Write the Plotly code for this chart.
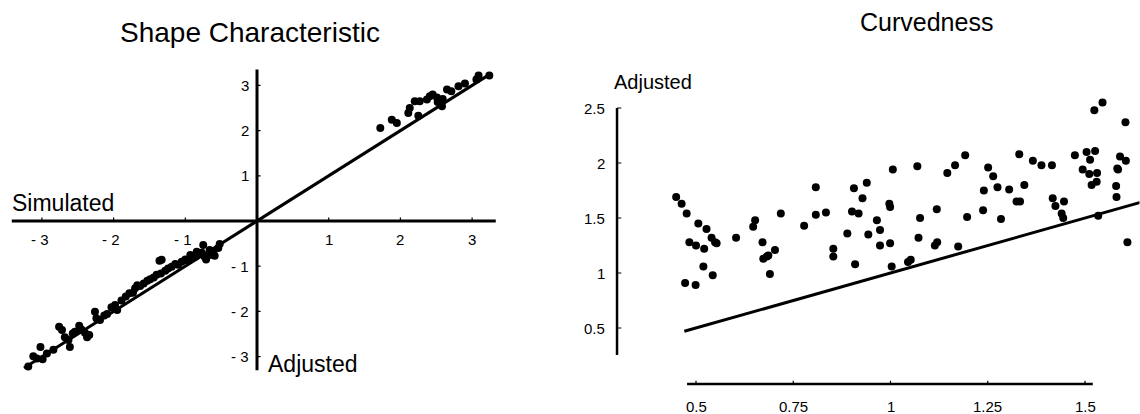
import plotly.graph_objects as go

# ---------------- data: Shape Characteristic (left) ----------------
shape_sim = [
    1.72, 1.88, 1.95, 2.11, 2.13, 2.20, 2.27, 2.25, 2.41, 2.45, 2.51, 2.58, 2.59, 2.65,
    2.71, 2.81, 2.90, 3.06, 3.09, 3.24, 2.37, 2.52,
    -3.19, -3.12, -3.07, -3.02, -2.99, -2.93, -2.84, -2.76, -2.72, -2.68, -2.63, -2.61,
    -2.57, -2.54, -2.48, -2.45, -2.40, -2.37, -2.34, -2.26, -2.24, -2.19, -2.13, -2.09,
    -2.03, -1.98, -1.95, -1.89, -1.83, -1.78, -1.73, -1.70, -1.67, -1.63, -1.58, -1.53,
    -1.49, -1.44, -1.40, -1.36, -1.34, -1.28, -1.24, -1.19, -1.14, -1.10, -1.05, -1.00,
    -0.96, -0.91, -0.86, -0.82, -0.77, -0.71, -0.66, -0.59,
    -0.75, -0.66, -0.61, -0.84, -0.93, -1.33, -0.54, -0.52, -0.73,
]
shape_adj = [
    2.06, 2.24, 2.17, 2.39, 2.50, 2.65, 2.65, 2.33, 2.76, 2.80, 2.73, 2.54, 2.70, 2.91,
    2.87, 2.98, 3.04, 3.13, 3.22, 3.22, 2.69, 2.63,
    -3.22, -2.99, -3.04, -2.79, -3.06, -2.93, -2.85, -2.34, -2.41, -2.57, -2.63, -2.79,
    -2.49, -2.45, -2.32, -2.40, -2.47, -2.57, -2.52, -2.01, -2.15, -2.19, -2.09, -2.06,
    -1.91, -1.86, -1.97, -1.76, -1.67, -1.60, -1.59, -1.49, -1.42, -1.44, -1.38, -1.32,
    -1.29, -1.25, -1.19, -0.88, -1.16, -1.10, -1.05, -1.01, -0.95, -0.97, -0.90, -0.85,
    -0.88, -0.80, -0.79, -0.73, -0.70, -0.85, -0.75, -0.77,
    -0.53, -0.64, -0.71, -0.68, -0.75, -0.86, -0.60, -0.51, -0.79,
]
shape_line_x = [-3.25, 3.2]
shape_line_y = [-3.25, 3.2]
shape_xticks = [-3, -2, -1, 1, 2, 3]
shape_xticklabels = ["- 3", "- 2", "- 1", "1", "2", "3"]
shape_yticks = [3, 2, 1, -1, -2, -3]
shape_yticklabels = ["3", "2", "1", "- 1", "- 2", "- 3"]

# ---------------- data: Curvedness (right) ----------------
curv_sim = [
    0.449, 0.463, 0.476, 0.506, 0.527, 0.540, 0.549, 0.553, 0.483, 0.500, 0.521, 0.603,
    0.652, 0.647, 0.671, 0.718, 0.778, 0.808, 0.808, 0.834, 0.853, 0.853, 0.889, 0.906,
    0.939, 0.928, 0.901, 0.918, 0.965, 0.973, 0.943, 0.997, 0.999, 1.006, 0.973, 0.999,
    0.682, 0.703,
    0.472, 0.499, 0.519, 0.543, 0.690, 0.673, 0.686, 0.909, 1.003, 1.045,
    1.069, 1.076, 1.072, 1.052, 1.114, 1.120, 1.119, 1.146, 1.166, 1.192, 1.174, 1.197,
    1.238, 1.240, 1.251, 1.264, 1.275, 1.284, 1.305, 1.331, 1.344, 1.324, 1.333, 1.366,
    1.388, 1.415, 1.417, 1.424, 1.446, 1.440, 1.444, 1.474, 1.504, 1.526, 1.513, 1.494,
    1.511, 1.531, 1.517, 1.530, 1.524, 1.545, 1.534, 1.590, 1.605, 1.583, 1.585, 1.580,
    1.581, 1.604, 1.609,
]
curv_adj = [
    1.69, 1.63, 1.54, 1.45, 1.40, 1.32, 1.28, 1.27, 1.28, 1.25, 1.22, 1.32,
    1.48, 1.42, 1.28, 1.54, 1.43, 1.78, 1.53, 1.55, 1.22, 1.15, 1.36, 1.77,
    1.82, 1.68, 1.56, 1.54, 1.48, 1.39, 1.35, 1.63, 1.60, 1.94, 1.25, 1.27,
    1.15, 1.21,
    0.91, 0.89, 1.06, 0.98, 0.99, 1.13, 1.16, 1.08, 1.06, 1.10,
    1.97, 1.50, 1.32, 1.12, 1.25, 1.28, 1.58, 1.91, 1.98, 2.07, 1.24, 1.51,
    1.57, 1.75, 1.96, 1.88, 1.78, 1.49, 1.76, 2.08, 1.80, 1.65, 1.65, 2.02,
    1.98, 1.98, 1.68, 1.61, 1.65, 1.54, 1.50, 2.07, 2.10, 2.11, 2.03, 1.94,
    1.90, 1.91, 1.80, 1.83, 2.48, 2.55, 1.52, 2.06, 2.02, 1.95, 1.94, 1.79,
    1.69, 2.37, 1.28,
]
curv_line_x = [0.47, 1.66]
curv_line_y = [0.47, 1.66]
curv_xticks = [0.5, 0.75, 1, 1.25, 1.5]
curv_xticklabels = ["0.5", "0.75", "1", "1.25", "1.5"]
curv_yticks = [2.5, 2, 1.5, 1, 0.5]
curv_yticklabels = ["2.5", "2", "1.5", "1", "0.5"]

FONT = "Liberation Sans, Arial, Helvetica, sans-serif"
W, H = 1140, 414

fig = go.Figure()

# left panel
fig.add_trace(go.Scatter(x=shape_line_x, y=shape_line_y, mode="lines",
                         line=dict(color="black", width=3), xaxis="x", yaxis="y",
                         hoverinfo="skip", showlegend=False))
fig.add_trace(go.Scatter(x=shape_sim, y=shape_adj, mode="markers",
                         marker=dict(color="black", size=8), xaxis="x", yaxis="y",
                         showlegend=False))
# right panel
fig.add_trace(go.Scatter(x=curv_line_x, y=curv_line_y, mode="lines",
                         line=dict(color="black", width=3), xaxis="x2", yaxis="y2",
                         hoverinfo="skip", showlegend=False, cliponaxis=True))
fig.add_trace(go.Scatter(x=curv_sim, y=curv_adj, mode="markers",
                         marker=dict(color="black", size=8), xaxis="x2", yaxis="y2",
                         showlegend=False))

shapes = []
annotations = []

# ---- left axes (crossing at origin) ----
shapes.append(dict(type="line", xref="x", yref="y", x0=-3.42, x1=3.33, y0=0, y1=0,
                   line=dict(color="black", width=3)))
shapes.append(dict(type="line", xref="x", yref="y", x0=0, x1=0, y0=-3.3, y1=3.35,
                   line=dict(color="black", width=3)))
for t in shape_xticks:
    shapes.append(dict(type="line", xref="x", yref="y", x0=t, x1=t, y0=0, y1=0.08,
                       line=dict(color="black", width=1.2)))
for t in shape_yticks:
    shapes.append(dict(type="line", xref="x", yref="y", x0=0, x1=0.05, y0=t, y1=t,
                       line=dict(color="black", width=1.2)))
for t, lab in zip(shape_xticks, shape_xticklabels):
    annotations.append(dict(xref="x", yref="y", x=t - (0.03 if t < 0 else 0), y=-0.42,
                            text=lab, showarrow=False, xanchor="center", yanchor="middle",
                            font=dict(family=FONT, size=15, color="black")))
for t, lab in zip(shape_yticks, shape_yticklabels):
    annotations.append(dict(xref="x", yref="y", x=-0.09, y=t, text=lab, showarrow=False,
                            xanchor="right", yanchor="middle",
                            font=dict(family=FONT, size=15, color="black")))
annotations.append(dict(xref="x", yref="y", x=-3.44, y=0.40, text="Simulated",
                        showarrow=False, xanchor="left", yanchor="middle",
                        font=dict(family=FONT, size=23, color="black")))
annotations.append(dict(xref="x", yref="y", x=0.13, y=-3.17, text="Adjusted",
                        showarrow=False, xanchor="left", yanchor="middle",
                        font=dict(family=FONT, size=23, color="black")))

# ---- right axes (range frame) ----
shapes.append(dict(type="line", xref="x2", yref="y2", x0=0.297, x1=0.297, y0=0.255, y1=2.5,
                   line=dict(color="black", width=2.5)))
shapes.append(dict(type="line", xref="x2", yref="y2", x0=0.477, x1=1.52, y0=-0.01, y1=-0.01,
                   line=dict(color="black", width=2.5)))
for t in curv_yticks:
    shapes.append(dict(type="line", xref="x2", yref="y2", x0=0.297, x1=0.308, y0=t, y1=t,
                       line=dict(color="black", width=1.2)))
for t in curv_xticks:
    shapes.append(dict(type="line", xref="x2", yref="y2", x0=t, x1=t, y0=-0.01, y1=0.02,
                       line=dict(color="black", width=1.2)))
for t, lab in zip(curv_yticks, curv_yticklabels):
    annotations.append(dict(xref="x2", yref="y2", x=0.272, y=t, text=lab, showarrow=False,
                            xanchor="right", yanchor="middle",
                            font=dict(family=FONT, size=15, color="black")))
for t, lab in zip(curv_xticks, curv_xticklabels):
    annotations.append(dict(xref="x2", yref="y2", x=t, y=-0.215, text=lab, showarrow=False,
                            xanchor="center", yanchor="middle",
                            font=dict(family=FONT, size=15, color="black")))
annotations.append(dict(xref="x2", yref="y2", x=0.283, y=2.74, text="Adjusted",
                        showarrow=False, xanchor="left", yanchor="middle",
                        font=dict(family=FONT, size=20, color="black")))

# ---- titles ----
annotations.append(dict(xref="paper", yref="paper", x=250 / W, y=1 - 32 / H,
                        text="Shape Characteristic", showarrow=False,
                        xanchor="center", yanchor="middle",
                        font=dict(family=FONT, size=28, color="black")))
annotations.append(dict(xref="paper", yref="paper", x=926 / W, y=1 - 22 / H,
                        text="Curvedness", showarrow=False,
                        xanchor="center", yanchor="middle",
                        font=dict(family=FONT, size=25, color="black")))

# pixel mapping of panels
# left: x0 at px 257, 71.7 px/unit ; y0 at px 221, 45.2 px/unit
lx_range = [-3.58, 3.5]
ly_range = [-4.2, 4.0]
lx_dom = [(257 + lx_range[0] * 71.7) / W, (257 + lx_range[1] * 71.7) / W]
ly_dom = [1 - (221 - ly_range[0] * 45.2) / H, 1 - (221 - ly_range[1] * 45.2) / H]
# right: x=0.5 at px 696, 389 px/unit ; y=0.5 at px 328, 110 px/unit
rx_range = [0.1, 1.64]
ry_range = [-0.25, 2.9]
rx_dom = [(696 + (rx_range[0] - 0.5) * 389) / W, (696 + (rx_range[1] - 0.5) * 389) / W]
ry_dom = [1 - (328 - (ry_range[0] - 0.5) * 110) / H, 1 - (328 - (ry_range[1] - 0.5) * 110) / H]

ax_common = dict(visible=False, showgrid=False, zeroline=False, fixedrange=True)
fig.update_layout(
    width=W, height=H, autosize=False,
    margin=dict(l=0, r=0, t=0, b=0),
    paper_bgcolor="white", plot_bgcolor="white",
    xaxis=dict(range=lx_range, domain=[max(0, lx_dom[0]), min(1, lx_dom[1])], anchor="y", **ax_common),
    yaxis=dict(range=ly_range, domain=[max(0, ly_dom[0]), min(1, ly_dom[1])], anchor="x", **ax_common),
    xaxis2=dict(range=rx_range, domain=[max(0, rx_dom[0]), min(1, rx_dom[1])], anchor="y2", **ax_common),
    yaxis2=dict(range=ry_range, domain=[max(0, ry_dom[0]), min(1, ry_dom[1])], anchor="x2", **ax_common),
    shapes=shapes,
    annotations=annotations,
    showlegend=False,
)

fig.write_html("out.html", config={"displayModeBar": False, "staticPlot": True},
               post_script="document.body.style.margin='0';document.body.style.overflow='hidden';")
